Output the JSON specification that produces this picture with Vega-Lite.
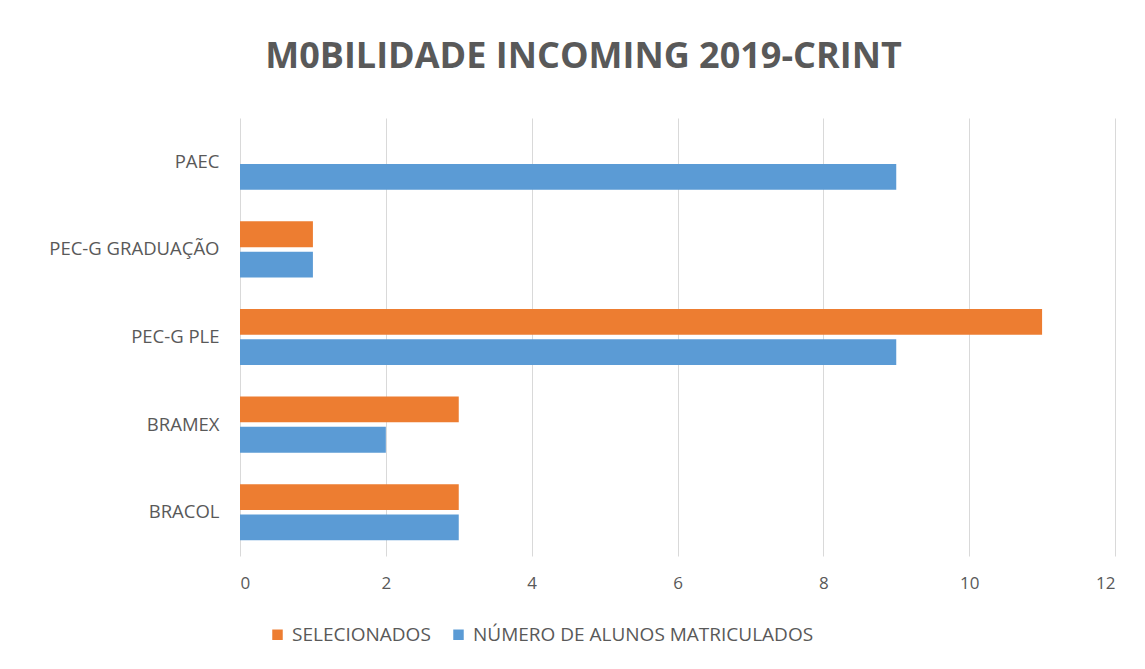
{
  "$schema": "https://vega.github.io/schema/vega-lite/v6.json",
  "width": 875,
  "height": 438,
  "autosize": "none",
  "padding": {"left": 240, "top": 118, "right": 30, "bottom": 113},
  "background": "white",
  "title": {
    "text": "M0BILIDADE INCOMING 2019-CRINT",
    "font": "Open Sans",
    "fontSize": 36,
    "fontWeight": "bold",
    "color": "#595959",
    "anchor": "middle",
    "frame": "group",
    "dx": -94,
    "offset": 42
  },
  "data": {
    "values": [
      {"Program": "PAEC", "Series": "SELECIONADOS", "Value": 0},
      {"Program": "PAEC", "Series": "NÚMERO DE ALUNOS MATRICULADOS", "Value": 9},
      {"Program": "PEC-G GRADUAÇÃO", "Series": "SELECIONADOS", "Value": 1},
      {"Program": "PEC-G GRADUAÇÃO", "Series": "NÚMERO DE ALUNOS MATRICULADOS", "Value": 1},
      {"Program": "PEC-G PLE", "Series": "SELECIONADOS", "Value": 11},
      {"Program": "PEC-G PLE", "Series": "NÚMERO DE ALUNOS MATRICULADOS", "Value": 9},
      {"Program": "BRAMEX", "Series": "SELECIONADOS", "Value": 3},
      {"Program": "BRAMEX", "Series": "NÚMERO DE ALUNOS MATRICULADOS", "Value": 2},
      {"Program": "BRACOL", "Series": "SELECIONADOS", "Value": 3},
      {"Program": "BRACOL", "Series": "NÚMERO DE ALUNOS MATRICULADOS", "Value": 3}
    ]
  },
  "mark": {"type": "bar"},
  "encoding": {
    "y": {
      "field": "Program",
      "type": "nominal",
      "sort": ["PAEC", "PEC-G GRADUAÇÃO", "PEC-G PLE", "BRAMEX", "BRACOL"],
      "scale": {"paddingInner": 0.36, "paddingOuter": 0.18},
      "axis": {
        "title": null,
        "ticks": false,
        "domain": false,
        "labelFont": "Open Sans",
        "labelFontSize": 18.5,
        "labelColor": "#595959",
        "labelPadding": 21,
        "labelLimit": 300
      }
    },
    "yOffset": {
      "field": "Series",
      "type": "nominal",
      "sort": ["SELECIONADOS", "NÚMERO DE ALUNOS MATRICULADOS"],
      "scale": {"paddingInner": 0.15, "paddingOuter": 0}
    },
    "x": {
      "field": "Value",
      "type": "quantitative",
      "scale": {"domain": [0, 12], "nice": false},
      "axis": {
        "title": null,
        "values": [0, 2, 4, 6, 8, 10, 12],
        "ticks": false,
        "domain": false,
        "grid": true,
        "gridColor": "#d9d9d9",
        "gridWidth": 1,
        "labelFont": "Open Sans",
        "labelFontSize": 17,
        "labelColor": "#595959",
        "labelPadding": 19
      }
    },
    "color": {
      "field": "Series",
      "type": "nominal",
      "sort": ["SELECIONADOS", "NÚMERO DE ALUNOS MATRICULADOS"],
      "scale": {
        "domain": ["SELECIONADOS", "NÚMERO DE ALUNOS MATRICULADOS"],
        "range": ["#ED7D31", "#5B9BD5"]
      },
      "legend": {
        "title": null,
        "orient": "none",
        "direction": "horizontal",
        "legendX": 28,
        "legendY": 507,
        "symbolType": "square",
        "symbolSize": 110,
        "symbolStrokeWidth": 0,
        "labelFont": "Open Sans",
        "labelFontSize": 19,
        "labelColor": "#595959",
        "labelLimit": 500,
        "columnPadding": 18,
        "labelOffset": 5
      }
    }
  },
  "config": {"view": {"stroke": null}}
}
